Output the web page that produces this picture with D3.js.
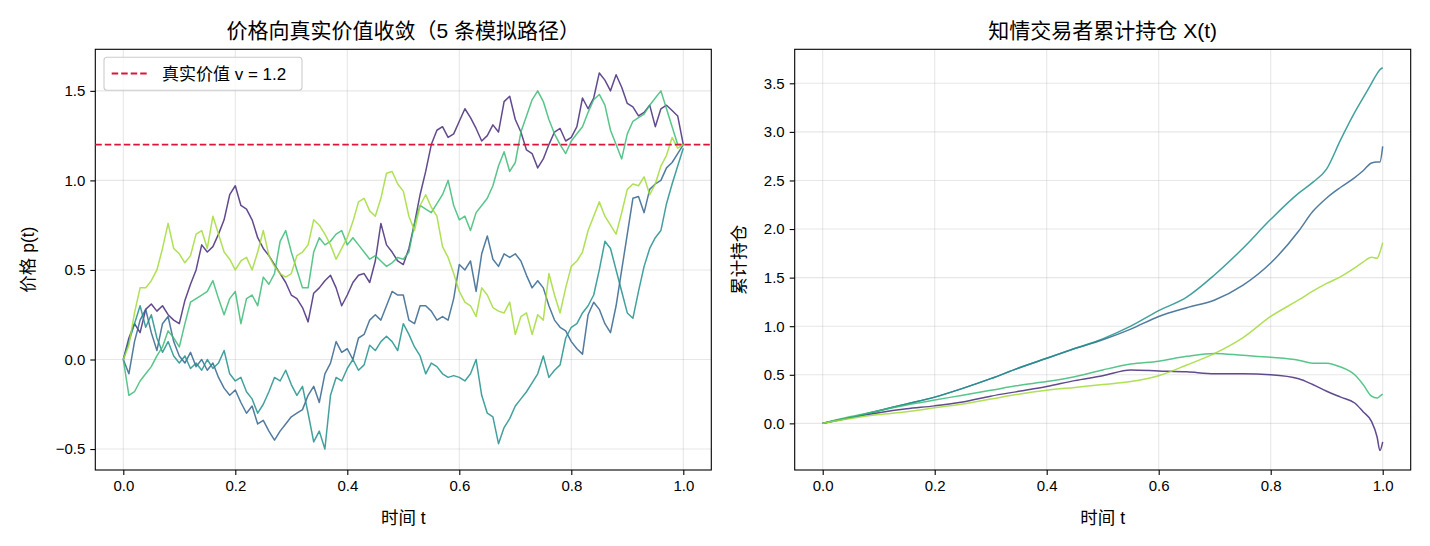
<!DOCTYPE html>
<html>
<head>
<meta charset="utf-8">
<script src="https://cdn.jsdelivr.net/npm/d3@7"></script>
<style>
  body { margin: 0; background: #fff; }
  text { font-family: "Liberation Sans", "Noto Sans CJK SC", sans-serif; fill: #000; }
</style>
</head>
<body>
<div id="vis"></div>
<script>
var width = 1430;
var height = 546;

// ---- data ----
var trueValue = 1.2;

var timeGrid = [0,0.01,0.02,0.03,0.04,0.05,0.06,0.07,0.08,0.09,
  0.1,0.11,0.12,0.13,0.14,0.15,0.16,0.17,0.18,0.19,
  0.2,0.21,0.22,0.23,0.24,0.25,0.26,0.27,0.28,0.29,
  0.3,0.31,0.32,0.33,0.34,0.35,0.36,0.37,0.38,0.39,
  0.4,0.41,0.42,0.43,0.44,0.45,0.46,0.47,0.48,0.49,
  0.5,0.51,0.52,0.53,0.54,0.55,0.56,0.57,0.58,0.59,
  0.6,0.61,0.62,0.63,0.64,0.65,0.66,0.67,0.68,0.69,
  0.7,0.71,0.72,0.73,0.74,0.75,0.76,0.77,0.78,0.79,
  0.8,0.81,0.82,0.83,0.84,0.85,0.86,0.87,0.88,0.89,
  0.9,0.91,0.92,0.93,0.94,0.95,0.96,0.97,0.98,0.99,
  1];

var price0 = [0,0.12,0.2,0.15,0.28,0.31,0.27,0.3,0.25,0.22,
  0.2,0.33,0.42,0.5,0.64,0.6,0.63,0.7,0.78,0.92,
  0.97,0.86,0.84,0.78,0.68,0.62,0.58,0.53,0.48,0.43,
  0.36,0.34,0.29,0.21,0.37,0.4,0.44,0.47,0.4,0.3,
  0.36,0.43,0.47,0.48,0.43,0.55,0.76,0.64,0.6,0.55,
  0.53,0.62,0.76,0.92,1.05,1.2,1.28,1.3,1.24,1.26,
  1.33,1.4,1.35,1.29,1.22,1.25,1.31,1.27,1.44,1.47,
  1.34,1.27,1.17,1.15,1.07,1.12,1.2,1.27,1.29,1.22,
  1.24,1.3,1.46,1.4,1.46,1.6,1.56,1.5,1.59,1.52,
  1.43,1.41,1.36,1.38,1.42,1.3,1.4,1.42,1.39,1.36,
  1.2];

var price1 = [0,-0.08,0.1,0.22,0.28,0.15,0.05,0.2,0.24,0.1,
  0.02,-0.02,0.04,-0.04,0,-0.06,-0.02,-0.1,-0.16,-0.2,
  -0.17,-0.24,-0.3,-0.26,-0.36,-0.34,-0.4,-0.45,-0.4,-0.36,
  -0.32,-0.3,-0.28,-0.2,-0.15,-0.24,-0.08,-0.02,0.1,0.04,
  0.06,0,0.12,0.14,0.22,0.25,0.22,0.3,0.38,0.36,
  0.36,0.22,0.2,0.3,0.3,0.27,0.22,0.24,0.22,0.34,
  0.53,0.5,0.55,0.38,0.59,0.69,0.56,0.52,0.59,0.57,
  0.59,0.55,0.47,0.4,0.44,0.4,0.3,0.22,0.18,0.16,
  0.1,0.06,0.03,0.25,0.32,0.28,0.2,0.15,0.3,0.5,
  0.7,0.9,0.91,0.82,0.95,0.98,1.0,1.07,1.1,1.15,
  1.2];

var price2 = [0,0.1,0.2,0.3,0.18,0.25,0.12,0.04,0.1,0.02,
  -0.02,0.02,-0.05,-0.02,-0.06,0,-0.05,-0.02,0.05,-0.08,
  -0.12,-0.1,-0.18,-0.22,-0.3,-0.25,-0.18,-0.1,-0.12,-0.06,
  -0.14,-0.2,-0.15,-0.3,-0.46,-0.4,-0.5,-0.2,-0.1,-0.12,
  -0.05,0,-0.06,-0.03,0.08,0.05,0.1,0.13,0.1,0.05,
  0.2,0.14,0.07,0.02,-0.08,-0.02,-0.04,-0.08,-0.1,-0.09,
  -0.1,-0.12,-0.08,0,-0.2,-0.3,-0.32,-0.47,-0.38,-0.33,
  -0.26,-0.22,-0.18,-0.13,-0.08,0.02,-0.1,-0.06,-0.03,0.12,
  0.18,0.2,0.26,0.3,0.36,0.5,0.66,0.62,0.5,0.38,
  0.26,0.23,0.38,0.52,0.62,0.68,0.72,0.87,0.98,1.08,
  1.18];

var price3 = [0,-0.2,-0.18,-0.12,-0.08,-0.04,0.02,0.07,0.16,0.12,
  0.07,0.2,0.32,0.34,0.36,0.38,0.44,0.34,0.25,0.34,
  0.38,0.2,0.34,0.36,0.3,0.46,0.42,0.48,0.66,0.72,
  0.6,0.5,0.4,0.4,0.6,0.68,0.64,0.66,0.7,0.72,
  0.64,0.68,0.64,0.6,0.56,0.58,0.55,0.52,0.54,0.57,
  0.56,0.6,0.76,0.86,0.84,0.82,0.87,0.92,1.0,0.86,
  0.78,0.8,0.72,0.82,0.86,0.9,0.97,1.08,1.16,1.05,
  1.1,1.27,1.36,1.45,1.5,1.44,1.34,1.26,1.2,1.15,
  1.22,1.26,1.3,1.38,1.45,1.48,1.42,1.28,1.2,1.12,
  1.26,1.33,1.35,1.37,1.42,1.46,1.5,1.4,1.3,1.2,
  1.2];

var price4 = [0,0.08,0.26,0.4,0.4,0.44,0.5,0.62,0.76,0.62,
  0.59,0.54,0.58,0.7,0.72,0.62,0.8,0.7,0.6,0.56,
  0.5,0.55,0.57,0.5,0.6,0.72,0.58,0.52,0.48,0.46,
  0.48,0.58,0.6,0.64,0.78,0.75,0.7,0.64,0.56,0.62,
  0.68,0.77,0.88,0.9,0.83,0.8,0.9,1.04,1.05,0.98,
  0.94,0.8,0.72,0.86,0.92,0.85,0.8,0.63,0.57,0.48,
  0.38,0.32,0.3,0.24,0.4,0.36,0.29,0.27,0.26,0.32,
  0.14,0.24,0.26,0.14,0.25,0.22,0.48,0.36,0.26,0.4,
  0.52,0.55,0.6,0.72,0.8,0.88,0.8,0.75,0.7,0.82,
  0.95,0.98,0.97,1.02,0.92,0.98,1.08,1.14,1.24,1.18,
  1.2];

var holdTime = [0,0.05,0.1,0.15,0.2,0.25,0.3,0.35,0.4,0.45,0.5,0.55,0.6,0.65,
  0.7,0.75,0.8,0.85,0.875,0.9,0.925,0.95,0.965,0.98,0.99,0.995,1];

var hold0 = [0,0.06,0.11,0.15,0.18,0.22,0.28,0.33,0.38,0.44,0.49,0.55,0.54,0.53,
  0.51,0.51,0.5,0.46,0.4,0.33,0.27,0.21,0.12,0.02,-0.14,-0.28,-0.19];
var hold1 = [0,0.06,0.13,0.2,0.27,0.36,0.46,0.57,0.67,0.77,0.86,0.97,1.1,1.19,
  1.27,1.42,1.65,1.98,2.18,2.32,2.43,2.53,2.6,2.68,2.69,2.69,2.85];
var hold2 = [0,0.06,0.13,0.2,0.27,0.36,0.46,0.57,0.67,0.77,0.87,1.0,1.16,1.3,
  1.53,1.8,2.1,2.37,2.48,2.62,2.92,3.2,3.35,3.5,3.6,3.64,3.66];
var hold3 = [0,0.07,0.13,0.19,0.24,0.29,0.34,0.39,0.43,0.48,0.55,0.61,0.64,0.69,
  0.72,0.7,0.68,0.65,0.62,0.62,0.58,0.5,0.4,0.28,0.26,0.28,0.3];
var hold4 = [0,0.05,0.09,0.12,0.16,0.2,0.25,0.3,0.34,0.37,0.4,0.43,0.49,0.6,
  0.72,0.88,1.1,1.27,1.36,1.44,1.51,1.6,1.66,1.71,1.7,1.76,1.86];

var xTicks = [0, 0.2, 0.4, 0.6, 0.8, 1.0];
var priceTicks = [-0.5, 0, 0.5, 1.0, 1.5];
var holdTicks = [0, 0.5, 1.0, 1.5, 2.0, 2.5, 3.0, 3.5];

var prices = [price0, price1, price2, price3, price4];
var holds = [hold0, hold1, hold2, hold3, hold4];

// ---- drawing ----
var pathColors = [0.12, 0.32, 0.5, 0.68, 0.86].map(s => d3.interpolateViridis(s));
var fmt = d3.format(".1f");

var svg = d3.select("#vis")
  .append("svg")
  .attr("width", width)
  .attr("height", height)
  .style("background-color", "white");

function panel(cfg) {
  var x = d3.scaleLinear().domain([-0.05, 1.05]).range([cfg.left, cfg.right]);
  var y = d3.scaleLinear().domain(cfg.yDomain).range([cfg.bottom, cfg.top]);
  var g = svg.append("g");

  // grid
  g.append("g").selectAll("line").data(xTicks).join("line")
    .attr("x1", d => x(d)).attr("x2", d => x(d))
    .attr("y1", cfg.top).attr("y2", cfg.bottom)
    .attr("stroke", "#b0b0b0").attr("stroke-opacity", 0.3).attr("stroke-width", 1.1);
  g.append("g").selectAll("line").data(cfg.yTicks).join("line")
    .attr("x1", cfg.left).attr("x2", cfg.right)
    .attr("y1", d => y(d)).attr("y2", d => y(d))
    .attr("stroke", "#b0b0b0").attr("stroke-opacity", 0.3).attr("stroke-width", 1.1);

  // axes
  var xa = g.append("g")
    .attr("transform", `translate(0, ${cfg.bottom})`)
    .call(d3.axisBottom(x).tickValues(xTicks).tickFormat(fmt).tickSize(5).tickPadding(5));
  var ya = g.append("g")
    .attr("transform", `translate(${cfg.left}, 0)`)
    .call(d3.axisLeft(y).tickValues(cfg.yTicks).tickFormat(fmt).tickSize(5).tickPadding(5));
  [xa, ya].forEach(a => {
    a.select(".domain").remove();
    a.selectAll("line").attr("stroke", "#000").attr("stroke-width", 1.1);
    a.selectAll("text").style("font-size", "15px").attr("fill", "#000");
  });

  // frame
  g.append("rect")
    .attr("x", cfg.left).attr("y", cfg.top)
    .attr("width", cfg.right - cfg.left).attr("height", cfg.bottom - cfg.top)
    .attr("fill", "none").attr("stroke", "#000").attr("stroke-width", 1.1);

  // titles / labels
  var cx = (cfg.left + cfg.right) / 2;
  g.append("text").attr("x", cx).attr("y", 38).attr("text-anchor", "middle")
    .style("font-size", "21px").text(cfg.title);
  g.append("text").attr("x", cx).attr("y", 524).attr("text-anchor", "middle")
    .style("font-size", "17.5px").text("时间 t");
  g.append("text")
    .attr("transform", `translate(${cfg.ylabelX}, ${(cfg.top + cfg.bottom) / 2}) rotate(-90)`)
    .attr("text-anchor", "middle").attr("dominant-baseline", "central")
    .style("font-size", "17.5px").text(cfg.ylabel);

  return { g: g, x: x, y: y };
}

// left: price paths
var L = panel({
  left: 95.3, right: 711.3, top: 49.3, bottom: 470,
  yDomain: [-0.617, 1.732], yTicks: priceTicks,
  title: "价格向真实价值收敛（5 条模拟路径）", ylabel: "价格 p(t)", ylabelX: 28
});

var priceLine = d3.line().x((d, i) => L.x(timeGrid[i])).y(d => L.y(d));
L.g.append("g").selectAll("path").data(prices).join("path")
  .attr("d", priceLine)
  .attr("fill", "none")
  .attr("stroke", (d, i) => pathColors[i])
  .attr("stroke-opacity", 0.85)
  .attr("stroke-width", 1.5)
  .attr("stroke-linejoin", "round");

L.g.append("line")
  .attr("x1", 95.3).attr("x2", 711.3)
  .attr("y1", L.y(trueValue)).attr("y2", L.y(trueValue))
  .attr("stroke", "#dc143c").attr("stroke-width", 1.8)
  .attr("stroke-dasharray", "6.5,3");

// legend
var lg = L.g.append("g");
lg.append("rect").attr("x", 104).attr("y", 57.3).attr("width", 198).attr("height", 33)
  .attr("rx", 3).attr("fill", "white").attr("fill-opacity", 0.8)
  .attr("stroke", "#cccccc").attr("stroke-width", 1.1);
lg.append("line").attr("x1", 111.7).attr("x2", 146.7).attr("y1", 73.5).attr("y2", 73.5)
  .attr("stroke", "#dc143c").attr("stroke-width", 1.8).attr("stroke-dasharray", "6.5,3");
lg.append("text").attr("x", 162).attr("y", 74).attr("dominant-baseline", "central")
  .style("font-size", "17px").text("真实价值 v = " + trueValue);

// right: cumulative holdings
var R = panel({
  left: 794.7, right: 1410.7, top: 49.3, bottom: 470,
  yDomain: [-0.48, 3.85], yTicks: holdTicks,
  title: "知情交易者累计持仓 X(t)", ylabel: "累计持仓", ylabelX: 738.5
});

var holdLine = d3.line().x((d, i) => R.x(holdTime[i])).y(d => R.y(d)).curve(d3.curveMonotoneX);
R.g.append("g").selectAll("path").data(holds).join("path")
  .attr("d", holdLine)
  .attr("fill", "none")
  .attr("stroke", (d, i) => pathColors[i])
  .attr("stroke-opacity", 0.85)
  .attr("stroke-width", 1.5);
</script>
</body>
</html>
